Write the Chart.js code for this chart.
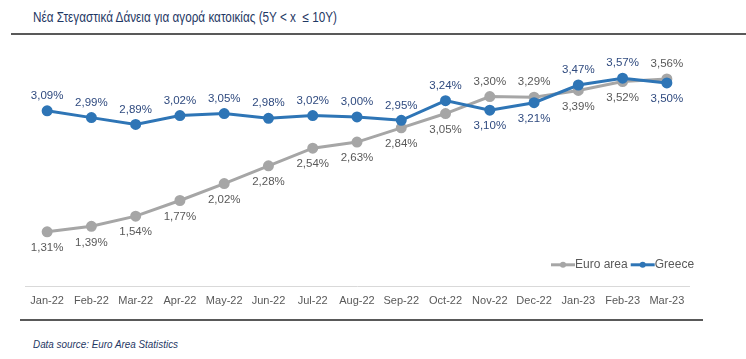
<!DOCTYPE html>
<html>
<head>
<meta charset="utf-8">
<script src="https://cdn.jsdelivr.net/npm/chart.js@4"></script>
<style>
	html, body { margin: 0; padding: 0; background: #fff; }
	body { width: 746px; height: 359px; position: relative; overflow: hidden; font-family: 'Liberation Sans', Arial, sans-serif; }
	.title { position: absolute; left: 33px; top: 9px; font: 14px 'Liberation Sans', Arial, sans-serif; color: #1f3864; white-space: nowrap; transform-origin: left top; }
	.rule1 { position: absolute; left: 11px; right: 0; top: 33px; height: 2px; background: #595959; }
	.rule2 { position: absolute; left: 20px; width: 683px; top: 319px; height: 2px; background: #595959; }
	.source { position: absolute; left: 33px; top: 338px; font: italic 11px 'Liberation Sans', Arial, sans-serif; color: #1f3864; white-space: nowrap; transform-origin: left top; }
	#wrap { position: absolute; left: 0; top: 0; width: 746px; height: 316px; }
</style>
</head>
<body>
<div class="title" data-w="304">Νέα Στεγαστικά Δάνεια για αγορά κατοικίας (5Y &lt; x&nbsp; ≤ 10Y)</div>
<div class="rule1"></div>
<div id="wrap"><canvas id="c"></canvas></div>
<div class="rule2"></div>
<div class="source" data-w="145">Data source: Euro Area Statistics</div>
<script>
const months = ['Jan-22', 'Feb-22', 'Mar-22', 'Apr-22', 'May-22', 'Jun-22', 'Jul-22', 'Aug-22', 'Sep-22', 'Oct-22', 'Nov-22', 'Dec-22', 'Jan-23', 'Feb-23', 'Mar-23'];
const euroArea = [1.31, 1.39, 1.54, 1.77, 2.02, 2.28, 2.54, 2.63, 2.84, 3.05, 3.30, 3.29, 3.39, 3.52, 3.56];
const greece = [3.09, 2.99, 2.89, 3.02, 3.05, 2.98, 3.02, 3.00, 2.95, 3.24, 3.10, 3.21, 3.47, 3.57, 3.50];

// squeeze the texts to the condensed width of the original font
document.querySelectorAll('[data-w]').forEach(el => {
	const w = el.getBoundingClientRect().width;
	el.style.transform = `scaleX(${parseFloat(el.dataset.w) / w})`;
});

const fmtPct = v => v.toFixed(2).replace('.', ',') + '%';

/* value labels: higher series above its point, lower series below */
const valueLabels = {
	id: 'valueLabels',
	afterDatasetsDraw(chart) {
		const ctx = chart.ctx;
		const sets = chart.data.datasets;
		ctx.save();
		ctx.font = '11.5px "Liberation Sans", Arial, sans-serif';
		ctx.textAlign = 'center';
		ctx.textBaseline = 'middle';
		sets.forEach((ds, di) => {
			const other = sets[1 - di].data;
			const meta = chart.getDatasetMeta(di);
			meta.data.forEach((pt, i) => {
				const above = ds.data[i] >= other[i];
				ctx.fillStyle = ds.labelColor;
				ctx.fillText(fmtPct(ds.data[i]), pt.x, pt.y + (above ? -15 : 16));
			});
		});
		ctx.restore();
	}
};

/* legend drawn inside the plot, bottom right */
const insideLegend = {
	id: 'insideLegend',
	afterDraw(chart) {
		const ctx = chart.ctx;
		const y = chart.chartArea.bottom - 22;
		let x = 551;
		ctx.save();
		ctx.font = '12px "Liberation Sans", Arial, sans-serif';
		ctx.textBaseline = 'middle';
		chart.data.datasets.forEach(ds => {
			ctx.strokeStyle = ds.borderColor;
			ctx.lineWidth = 3;
			ctx.beginPath(); ctx.moveTo(x, y); ctx.lineTo(x + 24, y); ctx.stroke();
			ctx.fillStyle = ds.borderColor;
			ctx.beginPath(); ctx.arc(x + 12, y, 3, 0, Math.PI * 2); ctx.fill();
			ctx.fillStyle = '#595959';
			ctx.fillText(ds.label, x + 24, y);
			x += 24 + ctx.measureText(ds.label).width + 3;
		});
		ctx.restore();
	}
};

new Chart(document.getElementById('c'), {
	type: 'line',
	data: {
		labels: months,
		datasets: [
			{ label: 'Euro area', data: euroArea, borderColor: '#a6a6a6', backgroundColor: '#a6a6a6', labelColor: '#595959', borderWidth: 3, pointRadius: 4, pointHoverRadius: 4, order: 2 },
			{ label: 'Greece', data: greece, borderColor: '#2e75b6', backgroundColor: '#2e75b6', labelColor: '#2f4a7f', borderWidth: 3, pointRadius: 4, pointHoverRadius: 4, order: 1 }
		]
	},
	options: {
		responsive: true,
		maintainAspectRatio: false,
		animation: false,
		layout: { padding: { left: 25, right: 57, top: 49, bottom: 0 } },
		plugins: { legend: { display: false }, tooltip: { enabled: false } },
		scales: {
			x: {
				offset: true,
				grid: { display: false, drawTicks: false },
				border: { color: '#d9d9d9', width: 1 },
				ticks: { color: '#595959', font: { size: 11, family: '"Liberation Sans", Arial, sans-serif' }, padding: 8, maxRotation: 0, autoSkip: false }
			},
			y: { display: false, min: 0.5, max: 4.0 }
		}
	},
	plugins: [valueLabels, insideLegend]
});
</script>
</body>
</html>
